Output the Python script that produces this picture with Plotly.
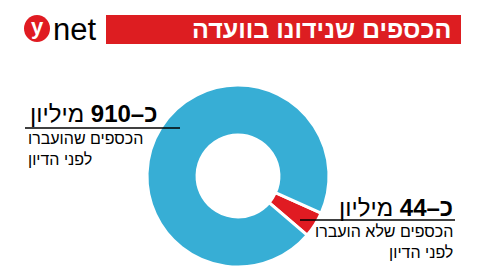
import plotly.graph_objects as go

labels = ["הכספים שלא הועברו לפני הדיון", "הכספים שהועברו לפני הדיון"]
values = [44, 910]
colors = ["#E01B22", "#37AED5"]
title_text = "הכספים שנידונו בוועדה"
big_labels = ["<b>כ–44</b> מיליון", "<b>כ–910</b> מיליון"]
sub_labels = ["הכספים שלא הועברו<br>לפני הדיון", "הכספים שהועברו<br>לפני הדיון"]

W, H = 480, 275
FONT = "Liberation Sans, Arial, sans-serif"

fig = go.Figure()
cx, cy, r = 238, 176, 91
fig.add_trace(go.Pie(
    labels=labels, values=values, sort=False, direction="clockwise",
    rotation=114, hole=0.45, textinfo="none", hoverinfo="label+value",
    marker=dict(colors=colors, line=dict(color="white", width=3)),
    domain=dict(x=[(cx - r) / W, (cx + r) / W], y=[(H - cy - r) / H, (H - cy + r) / H]),
    showlegend=False,
))

def px(x):
    return x / W

def py(y):
    return 1 - y / H

shapes = [
    dict(type="rect", xref="paper", yref="paper", x0=px(106), x1=px(461), y0=py(44), y1=py(15),
         fillcolor="#DD1D21", line=dict(width=0), layer="below"),
    dict(type="circle", xref="paper", yref="paper", x0=px(24), x1=px(50), y0=py(42), y1=py(15),
         fillcolor="#E01B22", line=dict(width=0)),
    dict(type="line", xref="paper", yref="paper", x0=px(25), x1=px(180), y0=py(128), y1=py(128),
         line=dict(color="black", width=1.5)),
    dict(type="line", xref="paper", yref="paper", x0=px(300), x1=px(455), y0=py(220), y1=py(220),
         line=dict(color="black", width=1.5)),
]

ann = []
def A(text, x, y, size, color="black", xanchor="right", align="right", family=FONT):
    ann.append(dict(text=text, x=px(x), y=py(y), xref="paper", yref="paper", showarrow=False,
                    xanchor=xanchor, yanchor="middle", align=align,
                    font=dict(size=size, color=color, family=family)))

A("<b>" + title_text + "</b>", 453, 29, 25, color="white")
A("<b>y</b>", 37, 27, 22, color="white", xanchor="center")
A("net", 51, 29, 31, xanchor="left")

A(big_labels[1], 159, 113, 24)
A(sub_labels[1], 26, 149, 16, xanchor="left", align="left")

A(big_labels[0], 455, 207, 24)
A(sub_labels[0], 455, 242, 16)

fig.update_layout(width=W, height=H, margin=dict(l=0, r=0, t=0, b=0),
                  paper_bgcolor="white", plot_bgcolor="white",
                  shapes=shapes, annotations=ann)
fig.write_html("out.html")
